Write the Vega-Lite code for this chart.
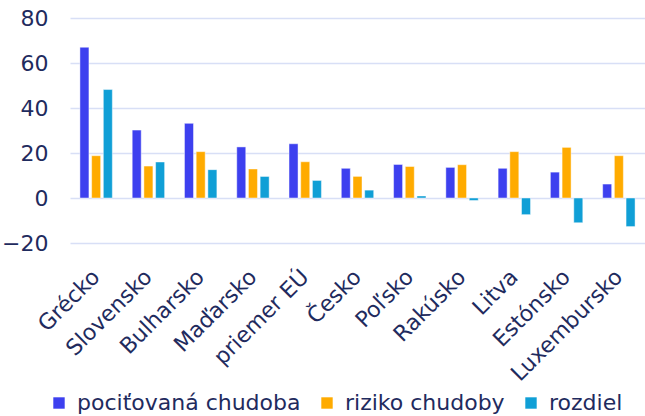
{
  "$schema": "https://vega.github.io/schema/vega-lite/v6.json",
  "width": 575,
  "height": 225,
  "autosize": "none",
  "padding": {"left": 70, "top": 18, "right": 0, "bottom": 173},
  "config": {"view": {"stroke": null}, "font": "DejaVu Sans"},
  "data": {"values": [
    {"krajina": "Grécko", "seria": "pociťovaná chudoba", "hodnota": 67.0},
    {"krajina": "Grécko", "seria": "riziko chudoby", "hodnota": 18.8},
    {"krajina": "Grécko", "seria": "rozdiel", "hodnota": 48.2},
    {"krajina": "Slovensko", "seria": "pociťovaná chudoba", "hodnota": 30.2},
    {"krajina": "Slovensko", "seria": "riziko chudoby", "hodnota": 14.2},
    {"krajina": "Slovensko", "seria": "rozdiel", "hodnota": 16.0},
    {"krajina": "Bulharsko", "seria": "pociťovaná chudoba", "hodnota": 33.2},
    {"krajina": "Bulharsko", "seria": "riziko chudoby", "hodnota": 20.6},
    {"krajina": "Bulharsko", "seria": "rozdiel", "hodnota": 12.6},
    {"krajina": "Maďarsko", "seria": "pociťovaná chudoba", "hodnota": 22.7},
    {"krajina": "Maďarsko", "seria": "riziko chudoby", "hodnota": 12.9},
    {"krajina": "Maďarsko", "seria": "rozdiel", "hodnota": 9.6},
    {"krajina": "priemer EÚ", "seria": "pociťovaná chudoba", "hodnota": 24.1},
    {"krajina": "priemer EÚ", "seria": "riziko chudoby", "hodnota": 16.1},
    {"krajina": "priemer EÚ", "seria": "rozdiel", "hodnota": 7.8},
    {"krajina": "Česko", "seria": "pociťovaná chudoba", "hodnota": 13.2},
    {"krajina": "Česko", "seria": "riziko chudoby", "hodnota": 9.6},
    {"krajina": "Česko", "seria": "rozdiel", "hodnota": 3.5},
    {"krajina": "Poľsko", "seria": "pociťovaná chudoba", "hodnota": 14.9},
    {"krajina": "Poľsko", "seria": "riziko chudoby", "hodnota": 14.0},
    {"krajina": "Poľsko", "seria": "rozdiel", "hodnota": 0.9},
    {"krajina": "Rakúsko", "seria": "pociťovaná chudoba", "hodnota": 13.6},
    {"krajina": "Rakúsko", "seria": "riziko chudoby", "hodnota": 14.8},
    {"krajina": "Rakúsko", "seria": "rozdiel", "hodnota": -1.1},
    {"krajina": "Litva", "seria": "pociťovaná chudoba", "hodnota": 13.2},
    {"krajina": "Litva", "seria": "riziko chudoby", "hodnota": 20.6},
    {"krajina": "Litva", "seria": "rozdiel", "hodnota": -7.4},
    {"krajina": "Estónsko", "seria": "pociťovaná chudoba", "hodnota": 11.5},
    {"krajina": "Estónsko", "seria": "riziko chudoby", "hodnota": 22.5},
    {"krajina": "Estónsko", "seria": "rozdiel", "hodnota": -11.0},
    {"krajina": "Luxembursko", "seria": "pociťovaná chudoba", "hodnota": 6.2},
    {"krajina": "Luxembursko", "seria": "riziko chudoby", "hodnota": 18.8},
    {"krajina": "Luxembursko", "seria": "rozdiel", "hodnota": -12.7}
  ]},
  "mark": {"type": "bar", "stroke": "white", "strokeOpacity": 0.45, "strokeWidth": 1},
  "encoding": {
    "x": {
      "field": "krajina", "type": "nominal", "sort": null,
      "scale": {"paddingInner": 0.38, "paddingOuter": 0.19},
      "axis": {"title": null, "labelAngle": -45, "labelAlign": "right", "labelBaseline": "middle",
               "labelPadding": 30, "ticks": false, "tickSize": 0, "domain": false, "grid": false,
               "labelFontSize": 22, "labelColor": "#1f2b5e", "labelOverlap": false, "labelLimit": 0}
    },
    "xOffset": {
      "field": "seria", "type": "nominal",
      "sort": ["pociťovaná chudoba", "riziko chudoby", "rozdiel"],
      "scale": {"paddingInner": 0.23, "paddingOuter": 0}
    },
    "y": {
      "field": "hodnota", "type": "quantitative",
      "scale": {"domain": [-20, 80], "nice": false},
      "axis": {"title": null, "values": [-20, 0, 20, 40, 60, 80], "domain": false, "ticks": false,
               "labelPadding": 22, "labelFontSize": 22, "labelColor": "#1f2b5e", "labelFlush": false,
               "gridColor": "#d8dff6", "gridWidth": 1.5}
    },
    "color": {
      "field": "seria", "type": "nominal",
      "scale": {"domain": ["pociťovaná chudoba", "riziko chudoby", "rozdiel"],
                "range": ["#3d40ef", "#ffab00", "#109fd6"]},
      "legend": {"title": null, "orient": "none", "direction": "horizontal", "legendX": -22, "legendY": 374,
                 "symbolType": "square", "symbolSize": 130, "symbolStrokeWidth": 0,
                 "labelFontSize": 22, "labelColor": "#1f2b5e", "labelOffset": 7, "columnPadding": 15, "labelLimit": 0}
    }
  }
}
